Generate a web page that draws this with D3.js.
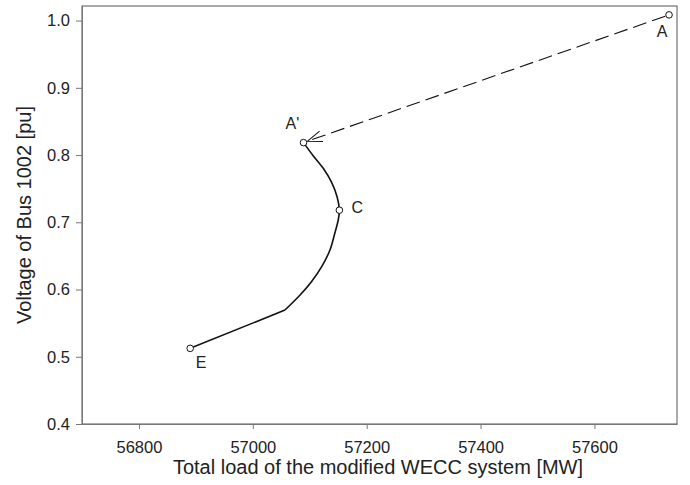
<!DOCTYPE html>
<html><head><meta charset="utf-8">
<script src="https://cdn.jsdelivr.net/npm/d3@7"></script>
<style>body{margin:0;background:#fff}svg{display:block}text{font-family:"Liberation Sans",Arial,sans-serif}</style>
</head><body>
<svg id="c" width="690" height="485"></svg>
<script>
const curveLoad = [57089, 57106, 57124, 57138, 57148, 57152, 57150, 57144, 57135.5, 57121, 57103, 57083, 57056.5];
const curveVolt = [0.8185, 0.799, 0.780, 0.760, 0.738, 0.718, 0.7034, 0.6836, 0.6588, 0.634, 0.6116, 0.5918, 0.5695];
const tailLoad = [57056.5, 56890];
const tailVolt = [0.5695, 0.5125];
const dashLoad = [57731, 57089];
const dashVolt = [1.0085, 0.8185];
const pointNames = ["A", "A'", "C", "E"];
const pointLoad = [57731, 57089, 57152, 56890];
const pointVolt = [1.0085, 0.8185, 0.718, 0.5125];
const xTicks = [56800, 57000, 57200, 57400, 57600];
const yTicks = [0.4, 0.5, 0.6, 0.7, 0.8, 0.9, 1.0];

const svg = d3.select("#c");
const L = 82, R = 677, T = 6, B = 424;
const x = d3.scaleLinear().domain([56700, 57745]).range([L, R]);
const y = d3.scaleLinear().domain([0.4, 1.0217]).range([B, T]);

svg.append("rect").attr("x", L).attr("y", T).attr("width", R - L).attr("height", B - T)
  .attr("fill", "none").attr("stroke", "#555").attr("stroke-width", 1);

const xa = svg.append("g").attr("transform", `translate(0,${B})`)
  .call(d3.axisBottom(x).tickValues(xTicks).tickFormat(d3.format("d")).tickSize(5).tickSizeOuter(0));
const ya = svg.append("g").attr("transform", `translate(${L},0)`)
  .call(d3.axisLeft(y).tickValues(yTicks).tickFormat(d3.format(".1f")).tickSize(6).tickSizeOuter(0));
[xa, ya].forEach(a => {
  a.select(".domain").attr("stroke", "#777");
  a.selectAll(".tick line").attr("stroke", "#777");
  a.selectAll(".tick text").attr("fill", "#222").attr("font-size", 16.5)
    .attr("font-family", "Liberation Sans, Arial, sans-serif");
});
xa.selectAll(".tick text").attr("dy", "1.25em");
ya.selectAll(".tick text").attr("x", -12);

svg.append("text").attr("x", 378).attr("y", 474).attr("text-anchor", "middle")
  .attr("font-size", 20).attr("fill", "#222").text("Total load of the modified WECC system [MW]");
svg.append("text").attr("transform", `translate(31,${(T + B) / 2}) rotate(-90)`).attr("text-anchor", "middle")
  .attr("font-size", 20).attr("fill", "#222").text("Voltage of Bus 1002 [pu]");

svg.append("defs").append("marker").attr("id", "arr").attr("viewBox", "0 0 15 12")
  .attr("refX", 15).attr("refY", 6).attr("markerWidth", 15).attr("markerHeight", 12)
  .attr("markerUnits", "userSpaceOnUse").attr("orient", "auto")
  .append("path").attr("d", "M0,0.5 L15,6 L0,11.5").attr("fill", "none").attr("stroke", "#111").attr("stroke-width", 1);

const p0 = [x(dashLoad[0]), y(dashVolt[0])], p1 = [x(dashLoad[1]), y(dashVolt[1])];
const len = Math.hypot(p1[0] - p0[0], p1[1] - p0[1]);
const ux = (p1[0] - p0[0]) / len, uy = (p1[1] - p0[1]) / len;
svg.append("line").attr("x1", p0[0] + ux * 4).attr("y1", p0[1] + uy * 4)
  .attr("x2", p1[0] - ux * 4).attr("y2", p1[1] - uy * 4)
  .attr("stroke", "#111").attr("stroke-width", 1.1).attr("stroke-dasharray", "14,6")
  .attr("marker-end", "url(#arr)");

svg.append("path").datum(curveLoad.map((v, i) => [v, curveVolt[i]]))
  .attr("d", d3.line().x(d => x(d[0])).y(d => y(d[1])).curve(d3.curveCatmullRom.alpha(0.5)))
  .attr("fill", "none").attr("stroke", "#111").attr("stroke-width", 1.6);
svg.append("path").datum(tailLoad.map((v, i) => [v, tailVolt[i]]))
  .attr("d", d3.line().x(d => x(d[0])).y(d => y(d[1])))
  .attr("fill", "none").attr("stroke", "#111").attr("stroke-width", 1.6);

svg.selectAll("circle.pt").data(pointNames).enter().append("circle")
  .attr("cx", (d, i) => x(pointLoad[i])).attr("cy", (d, i) => y(pointVolt[i])).attr("r", 3.3)
  .attr("fill", "#fff").attr("stroke", "#111").attr("stroke-width", 1);

const off = {"A": [-7, 16], "A'": [-11, -20], "C": [18, -3], "E": [11, 14]};
svg.selectAll("text.lbl").data(pointNames).enter().append("text")
  .attr("x", (d, i) => x(pointLoad[i]) + off[d][0]).attr("y", (d, i) => y(pointVolt[i]) + off[d][1] + 6)
  .attr("text-anchor", "middle").attr("font-size", 16).attr("fill", "#222").text(d => d);
</script>
</body></html>
